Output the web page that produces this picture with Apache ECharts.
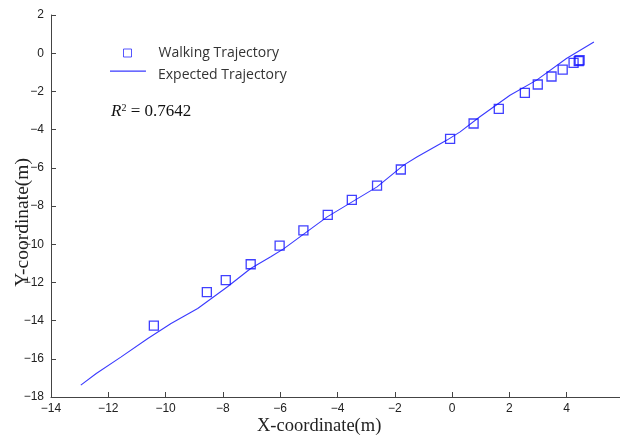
<!DOCTYPE html>
<html>
<head>
<meta charset="utf-8">
<script src="https://cdn.jsdelivr.net/npm/echarts@6/dist/echarts.min.js"></script>
<style>html,body{margin:0;padding:0;background:#fff;}#c{width:620px;height:435px;}</style>
</head>
<body>
<div id="c"></div>
<script>
// Walking trajectory (measured points)
const walkX = [-10.41, -8.56, -7.90, -7.03, -6.02, -5.19, -4.34, -3.50, -2.62, -1.79, -0.07, 0.75, 1.63, 2.54, 2.99, 3.47, 3.86, 4.24, 4.42, 4.45];
const walkY = [-14.26, -12.51, -11.88, -11.05, -10.07, -9.28, -8.46, -7.68, -6.93, -6.09, -4.49, -3.68, -2.91, -2.08, -1.64, -1.22, -0.86, -0.51, -0.42, -0.37];
// Expected trajectory (line)
const expX = [-12.96, -12.42, -11.55, -10.62, -9.81, -8.88, -7.84, -7.03, -6.33, -5.87, -4.36, -2.62, -1.69, -1.23, -0.18, 0.28, 0.97, 2.02, 2.95, 3.99, 4.95];
const expY = [-17.38, -16.77, -15.90, -14.94, -14.15, -13.37, -12.23, -11.27, -10.66, -10.23, -8.57, -7.00, -5.86, -5.43, -4.55, -4.12, -3.33, -2.20, -1.41, -0.28, 0.59];
const seriesNames = ['Walking Trajectory', 'Expected Trajectory'];
const xTicks = {min: -14, max: 6, interval: 2};
const yTicks = {min: -18, max: 2, interval: 2};
const r2Value = '0.7642';

const fmt = v => String(v).replace('-', '\u2212');
const walkData = walkX.map((x, i) => [x, walkY[i]]);
const expData = expX.map((x, i) => [x, expY[i]]);

const labelFont = {color: '#222', fontFamily: 'Liberation Sans, Arial, sans-serif', fontSize: 12, formatter: fmt};
const axisCommon = {
  axisLine: {show: true, onZero: false, lineStyle: {color: '#444', width: 1}},
  axisTick: {show: true, inside: true, length: 5, lineStyle: {color: '#444'}},
  splitLine: {show: false}
};
const legendText = {color: '#333', fontFamily: 'Open Sans, Noto Sans, sans-serif', fontSize: 14};
// legend icon: a thin line drawn at the top of a 36x9 box
const lineIcon = 'path://M0,0H36V1.2H0Z M0,9H0.01V9.01H0Z';

const chart = echarts.init(document.getElementById('c'));
chart.setOption({
  animation: false,
  backgroundColor: '#fff',
  grid: {left: 51, right: -4, top: 15, bottom: 38, containLabel: false, outerBoundsMode: 'none'},
  xAxis: Object.assign({type: 'value', min: xTicks.min, max: xTicks.max, interval: xTicks.interval}, axisCommon,
    {axisLabel: Object.assign({}, labelFont, {margin: 6})}),
  yAxis: Object.assign({type: 'value', min: yTicks.min, max: yTicks.max, interval: yTicks.interval}, axisCommon,
    {axisLabel: Object.assign({}, labelFont, {margin: 7})}),
  legend: [
    {
      left: 123, top: 46, padding: 0,
      itemWidth: 8, itemHeight: 8,
      itemStyle: {borderWidth: 1, borderColor: '#2a2aff'},
      textStyle: Object.assign({}, legendText, {padding: [0, 0, 0, 22]}),
      data: [{name: seriesNames[0], icon: 'rect'}]
    },
    {
      left: 110, top: 68, padding: 0,
      itemWidth: 36, itemHeight: 9,
      textStyle: Object.assign({}, legendText, {padding: [0, 0, 0, 7]}),
      data: [{name: seriesNames[1], icon: lineIcon}]
    }
  ],
  graphic: [
    {type: 'text', left: 111, top: 103, style: {
      text: '{r|R}{s|2}{t| = ' + r2Value + '}',
      rich: {
        r: {fontFamily: 'Liberation Serif, Times New Roman, serif', fontStyle: 'italic', fontSize: 17, fill: '#111'},
        s: {fontFamily: 'Liberation Serif, serif', fontSize: 10, fill: '#111', verticalAlign: 'top', padding: [0, 0, 8, 0]},
        t: {fontFamily: 'Liberation Serif, Times New Roman, serif', fontSize: 17, fill: '#111'}
      }
    }},
    {type: 'text', left: 257, top: 417, style: {
      text: 'X-coordinate(m)', fontFamily: 'Liberation Serif, Times New Roman, serif', fontSize: 18.5, fill: '#222'
    }},
    {type: 'text', rotation: Math.PI / 2, left: 13, top: 158, style: {
      text: 'Y-coordinate(m)', fontFamily: 'Liberation Serif, Times New Roman, serif', fontSize: 19.5, fill: '#222'
    }}
  ],
  series: [
    {
      name: seriesNames[0], type: 'scatter', data: walkData,
      symbol: 'rect', symbolSize: 9,
      itemStyle: {color: 'rgba(255,255,255,0)', borderColor: '#1010ff', borderWidth: 1.3},
      z: 3
    },
    {
      name: seriesNames[1], type: 'line', data: expData,
      symbol: 'none', smooth: false,
      lineStyle: {color: '#3a3aff', width: 1.1},
      itemStyle: {color: '#3a3aff'},
      z: 2
    }
  ]
});
</script>
</body>
</html>
